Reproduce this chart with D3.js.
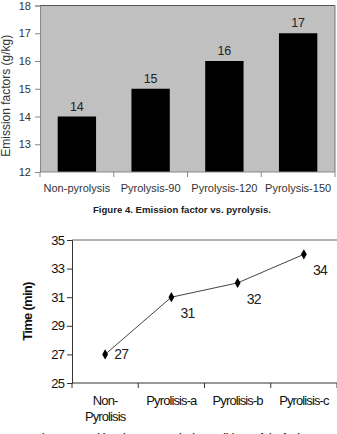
<!DOCTYPE html>
<html>
<head>
<meta charset="utf-8">
<script src="https://cdn.jsdelivr.net/npm/d3@7"></script>
<style>
  html, body { margin: 0; padding: 0; background: #fff; overflow: hidden; }
  svg { display: block; font-family: "Liberation Sans", Arial, sans-serif; }
</style>
</head>
<body>
<svg id="chart" width="337" height="434"></svg>
<script>
// figure 4 data
const emissionCats = ['Non-pyrolysis', 'Pyrolysis-90', 'Pyrolysis-120', 'Pyrolysis-150']
const emissionVals = [14, 15, 16, 17]
const emissionTicks = [12, 13, 14, 15, 16, 17, 18]

// figure 5 data
const timeCats = [['Non-', 'Pyrolisis'], ['Pyrolisis-a'], ['Pyrolisis-b'], ['Pyrolisis-c']]
const timeVals = [27, 31, 32, 34]
const timeTicks = [25, 27, 29, 31, 33, 35]

const svg = d3.select('#chart')

// ---------- top: bar chart ----------
const area1 = { x0: 40, x1: 335, y0: 5.5, y1: 172 }
const xb = d3.scaleBand().domain(emissionCats).range([area1.x0, area1.x1]).paddingInner(0.48).paddingOuter(0.24)
const yb = d3.scaleLinear().domain([12, 18]).range([area1.y1, area1.y0])

const g1 = svg.append('g')
g1.append('rect')
  .attr('x', area1.x0).attr('y', area1.y0)
  .attr('width', area1.x1 - area1.x0).attr('height', area1.y1 - area1.y0)
  .attr('fill', '#c0c0c0')
g1.append('line').attr('x1', area1.x0).attr('x2', area1.x1).attr('y1', area1.y0).attr('y2', area1.y0)
  .attr('stroke', '#555').attr('stroke-width', 1)
g1.append('line').attr('x1', area1.x1).attr('x2', area1.x1).attr('y1', area1.y0).attr('y2', area1.y1)
  .attr('stroke', '#777').attr('stroke-width', 1)

g1.selectAll('rect.bar')
  .data(emissionVals)
  .enter().append('rect')
    .attr('class', 'bar')
    .attr('x', (d, i) => xb(emissionCats[i]))
    .attr('y', d => yb(d))
    .attr('width', xb.bandwidth())
    .attr('height', d => yb(12) - yb(d))
    .attr('fill', '#000')

g1.selectAll('text.val')
  .data(emissionVals)
  .enter().append('text')
    .attr('class', 'val')
    .attr('x', (d, i) => xb(emissionCats[i]) + xb.bandwidth() / 2)
    .attr('y', d => yb(d) - 6)
    .attr('text-anchor', 'middle')
    .attr('font-size', 12.5)
    .attr('fill', '#222')
    .text(d => d)

const yAxis1 = g1.append('g')
  .attr('transform', `translate(${area1.x0},0)`)
  .call(d3.axisLeft(yb).tickValues(emissionTicks).tickSize(5).tickPadding(4).tickFormat(d3.format('d')))
yAxis1.select('.domain').attr('stroke', '#888')
yAxis1.selectAll('.tick line').attr('stroke', '#888')
yAxis1.selectAll('text').attr('font-size', 11).attr('fill', '#333').attr('font-family', 'Liberation Sans, Arial, sans-serif')

// x axis with boundary ticks
const xAxis1 = g1.append('g').attr('transform', `translate(0,${area1.y1})`)
xAxis1.append('line').attr('x1', area1.x0).attr('x2', area1.x1).attr('stroke', '#888')
const bw1 = (area1.x1 - area1.x0) / emissionCats.length
xAxis1.selectAll('line.tk')
  .data(d3.range(emissionCats.length + 1))
  .enter().append('line')
    .attr('class', 'tk')
    .attr('x1', i => area1.x0 + i * bw1).attr('x2', i => area1.x0 + i * bw1)
    .attr('y1', 0).attr('y2', 5)
    .attr('stroke', '#888')
xAxis1.selectAll('text')
  .data(emissionCats)
  .enter().append('text')
    .attr('x', d => xb(d) + xb.bandwidth() / 2)
    .attr('y', 20)
    .attr('text-anchor', 'middle')
    .attr('font-size', 11)
    .attr('fill', '#333')
    .text(d => d)

g1.append('text')
  .attr('transform', `translate(10,${(area1.y0 + area1.y1) / 2 + 7}) rotate(-90)`)
  .attr('text-anchor', 'middle')
  .attr('font-size', 12)
  .attr('fill', '#333')
  .text('Emission factors (g/kg)')

svg.append('text')
  .attr('x', 182).attr('y', 212.5)
  .attr('text-anchor', 'middle')
  .attr('font-size', 9.6)
  .attr('font-weight', 'bold')
  .attr('fill', '#222')
  .text('Figure 4. Emission factor vs. pyrolysis.')

// ---------- bottom: line chart ----------
const area2 = { x0: 72, x1: 337, y0: 240, y1: 383 }
const xl = d3.scalePoint().domain(d3.range(timeCats.length)).range([area2.x0, area2.x1]).padding(0.5)
const yl = d3.scaleLinear().domain([25, 35]).range([area2.y1, area2.y0])
const cond = { 'font-size': 13, 'letter-spacing': -0.9, fill: '#111' }

const g2 = svg.append('g')
g2.append('line').attr('x1', area2.x0).attr('x2', area2.x1).attr('y1', area2.y0).attr('y2', area2.y0)
  .attr('stroke', '#999').attr('stroke-width', 1.5)

const yAxis2 = g2.append('g')
  .attr('transform', `translate(${area2.x0},0)`)
  .call(d3.axisLeft(yl).tickValues(timeTicks).tickSize(5).tickPadding(3).tickFormat(d3.format('d')))
yAxis2.select('.domain').attr('stroke', '#333')
yAxis2.selectAll('.tick line').attr('stroke', '#333')
yAxis2.selectAll('text')
  .attr('font-family', 'Liberation Sans, Arial, sans-serif')
  .attr('font-size', cond['font-size']).attr('letter-spacing', cond['letter-spacing']).attr('fill', cond.fill)

const xAxis2 = g2.append('g').attr('transform', `translate(0,${area2.y1})`)
xAxis2.append('line').attr('x1', area2.x0).attr('x2', area2.x1).attr('stroke', '#333')
const bw2 = (area2.x1 - area2.x0) / timeCats.length
xAxis2.selectAll('line.tk')
  .data(d3.range(timeCats.length + 1))
  .enter().append('line')
    .attr('class', 'tk')
    .attr('x1', i => area2.x0 + i * bw2).attr('x2', i => area2.x0 + i * bw2)
    .attr('y1', 0).attr('y2', 5)
    .attr('stroke', '#333')
xAxis2.selectAll('text')
  .data(timeCats)
  .enter().append('text')
    .attr('x', (d, i) => xl(i))
    .attr('y', 22)
    .attr('text-anchor', 'middle')
    .attr('font-size', cond['font-size']).attr('letter-spacing', cond['letter-spacing']).attr('fill', cond.fill)
    .each(function (d, i) {
      const t = d3.select(this)
      d.forEach((s, k) => {
        t.append('tspan').attr('x', xl(i)).attr('dy', k ? 16 : 0).text(s)
      })
    })

const line = d3.line().x((d, i) => xl(i)).y(d => yl(d))
g2.append('path')
  .datum(timeVals)
  .attr('d', line)
  .attr('fill', 'none')
  .attr('stroke', '#444')
  .attr('stroke-width', 1)

g2.selectAll('path.mk')
  .data(timeVals)
  .enter().append('path')
    .attr('class', 'mk')
    .attr('transform', (d, i) => `translate(${xl(i)},${yl(d)})`)
    .attr('d', d3.symbol(d3.symbolDiamond, 30))
    .attr('fill', '#000')

// first label sits right of its point, the rest below-right
g2.selectAll('text.val')
  .data(timeVals)
  .enter().append('text')
    .attr('class', 'val')
    .attr('x', (d, i) => xl(i) + 9)
    .attr('y', (d, i) => yl(d) + (i === 0 ? 4.5 : 21))
    .attr('font-size', 14).attr('letter-spacing', -0.6).attr('fill', '#222')
    .text(d => d)

g2.append('text')
  .attr('transform', `translate(32,${(area2.y0 + area2.y1) / 2}) rotate(-90)`)
  .attr('text-anchor', 'middle')
  .attr('font-size', 13)
  .attr('font-weight', 'bold')
  .attr('letter-spacing', -0.7)
  .attr('fill', '#111')
  .text('Time (min)')

// next caption, mostly cut off by the window edge
svg.append('text')
  .attr('x', 172).attr('y', 439.5)
  .attr('text-anchor', 'middle')
  .attr('font-size', 9.6)
  .attr('font-weight', 'bold')
  .attr('fill', '#222')
  .text('Figure 5. Cooking time vs. pyrolysis conditions of the fuels.')
</script>
</body>
</html>
